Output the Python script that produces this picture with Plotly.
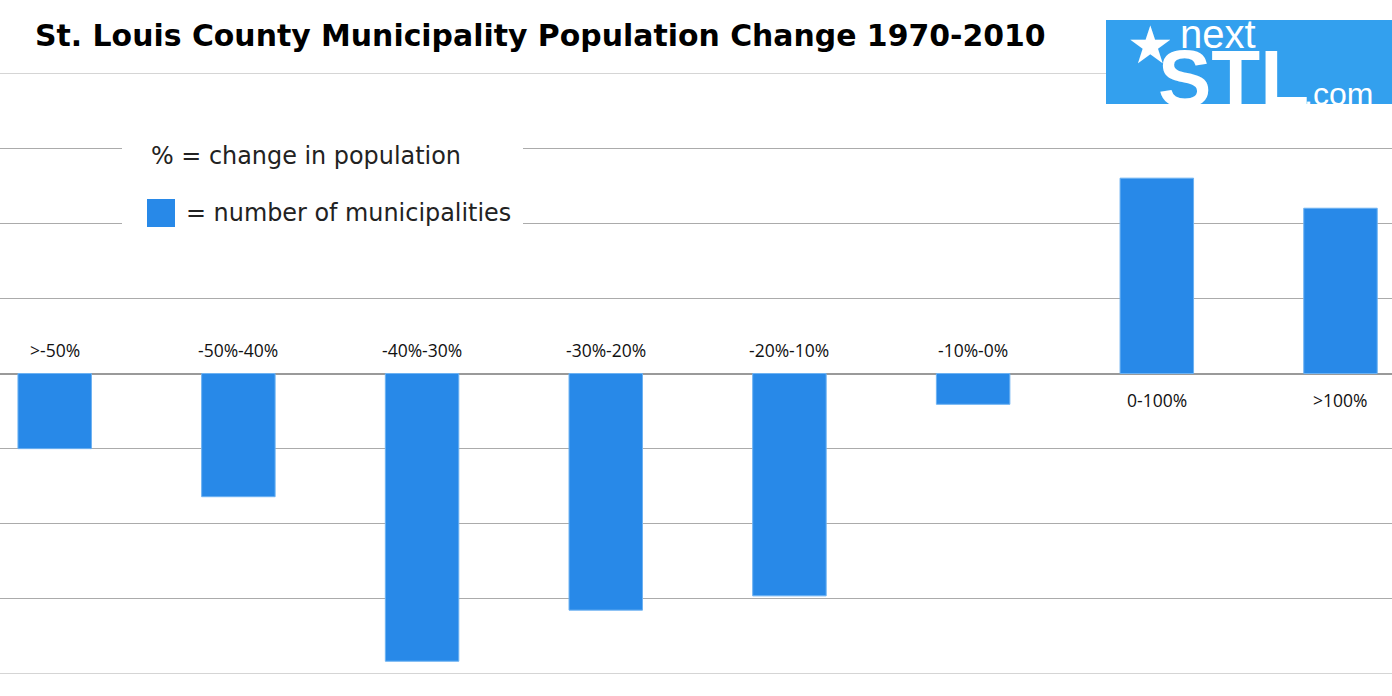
import plotly.graph_objects as go

categories = [">-50%", "-50%-40%", "-40%-30%", "-30%-20%", "-20%-10%", "-10%-0%", "0-100%", ">100%"]
values = [-5, -8.2, -19.15, -15.75, -14.8, -2.05, 13, 11]

BAR = "#2889E8"
GRID = "#ababab"
W, H = 1392, 696
T, B = 73, 22
PH = H - T - B
YMAX = 20


def px(x):
    return x / W


def py(y):
    return (H - B - y) / PH


fig = go.Figure()
fig.add_trace(go.Bar(
    x=list(range(len(categories))), y=values,
    marker=dict(color=BAR, line=dict(color="#6db2f2", width=1)),
    width=0.4, hoverinfo="skip"))

annotations = []
for i, (c, v) in enumerate(zip(categories, values)):
    annotations.append(dict(
        x=i, y=0, xref="x", yref="y", text=c, showarrow=False,
        yshift=24 if v < 0 else -26,
        font=dict(family="Open Sans", size=17.5, color="#111")))

annotations += [
    dict(x=px(33), y=py(35), xref="paper", yref="paper", xanchor="left", yanchor="middle",
         text="<b>St. Louis County Municipality Population Change 1970-2010</b>",
         showarrow=False, font=dict(family="DejaVu Sans", size=29.9, color="#000")),
    dict(x=px(149), y=py(156), xref="paper", yref="paper", xanchor="left", yanchor="middle",
         text="% = change in population", showarrow=False,
         font=dict(family="DejaVu Sans", size=23.9, color="#222")),
    dict(x=px(184), y=py(213), xref="paper", yref="paper", xanchor="left", yanchor="middle",
         text="= number of municipalities", showarrow=False,
         font=dict(family="DejaVu Sans", size=23.9, color="#222")),
    # logo texts
    dict(x=px(1178), y=py(34), xref="paper", yref="paper", xanchor="left", yanchor="middle",
         text="next", showarrow=False,
         font=dict(family="Liberation Sans", size=40, color="white")),
    dict(x=px(1156), y=py(78), xref="paper", yref="paper", xanchor="left", yanchor="middle",
         text="<b>STL</b>", showarrow=False,
         font=dict(family="Liberation Sans", size=80, color="white")),
    dict(x=px(1302), y=py(94), xref="paper", yref="paper", xanchor="left", yanchor="middle",
         text=".com", showarrow=False,
         font=dict(family="Liberation Sans", size=32, color="white")),
    dict(x=px(1150), y=py(45), xref="paper", yref="paper", xanchor="center", yanchor="middle",
         text="★", showarrow=False,
         font=dict(family="DejaVu Sans", size=52, color="white")),
]

shapes = [
    dict(type="line", xref="paper", yref="y", x0=0, x1=1, y0=YMAX, y1=YMAX,
         line=dict(color=GRID, width=1), layer="below"),
    dict(type="line", xref="paper", yref="y", x0=0, x1=1, y0=-YMAX, y1=-YMAX,
         line=dict(color=GRID, width=1), layer="below"),
    dict(type="rect", xref="paper", yref="paper", x0=px(122), x1=px(523), y0=py(138), y1=py(236),
         fillcolor="white", line=dict(width=0), layer="above"),
    dict(type="rect", xref="paper", yref="paper", x0=px(147), x1=px(175), y0=py(199), y1=py(227),
         fillcolor=BAR, line=dict(width=0), layer="above"),
    dict(type="rect", xref="paper", yref="paper", x0=px(1106), x1=px(1392), y0=py(20), y1=py(104),
         fillcolor="#33A0EE", line=dict(width=0), layer="above"),
]

fig.update_layout(
    width=W, height=H,
    margin=dict(l=0, r=0, t=T, b=B),
    paper_bgcolor="white", plot_bgcolor="white",
    showlegend=False,
    xaxis=dict(range=[-0.2978, 7.2804], showticklabels=False, showgrid=False,
               zeroline=False, showline=False, ticks=""),
    yaxis=dict(range=[-YMAX, YMAX], dtick=5, showticklabels=False, showgrid=True,
               gridcolor=GRID, gridwidth=1, zeroline=True, zerolinecolor="#9a9a9a",
               zerolinewidth=2, showline=False, ticks=""),
    annotations=annotations, shapes=shapes,
)

fig.write_html("out.html")
